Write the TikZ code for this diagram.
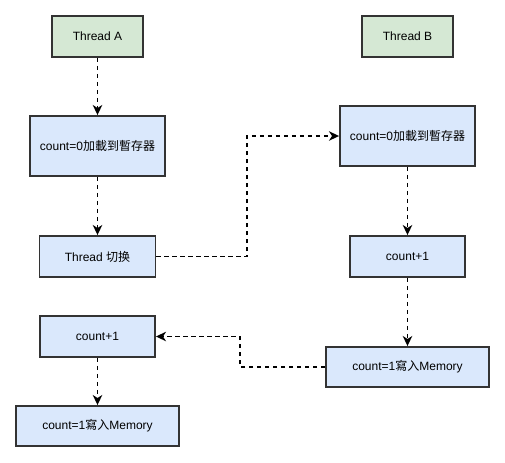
\documentclass[tikz,border=0pt]{standalone}
\usepackage{fontspec}
\setmainfont{Liberation Sans}
\newfontfamily\cjk{Noto Sans CJK SC}
\usetikzlibrary{arrows.meta}
\definecolor{boxgreen}{HTML}{D5E8D4}
\definecolor{boxblue}{HTML}{DAE8FC}
\definecolor{boxline}{HTML}{333333}
\begin{document}
\begin{tikzpicture}[x=0.75pt, y=-0.75pt, >={Stealth[length=7.5pt, width=7pt, inset=2.2pt]},
    box/.style={draw=boxline, line width=1.4pt, fill=boxblue, inner sep=0pt,
      font=\fontsize{9pt}{11pt}\selectfont},
    head/.style={box, fill=boxgreen, minimum width=68.25pt, minimum height=30.75pt},
    flow/.style={->, line width=1.4pt, dash pattern=on 3.4pt off 2.6pt}]
    \newcommand\XA{97.5}
    \newcommand\XB{407.5}
    \useasboundingbox (0,0) rectangle (505,462);
    \node[head] (TA) at (\XA, 36.5){Thread A};
    \node[head] (TB) at (\XB, 36.5){Thread B};
    \node[box, minimum width=101.25pt, minimum height=45pt] (LA) at (\XA, 146){count=0{\cjk 加載到暫存器}};
    \node[box, minimum width=101.25pt, minimum height=45pt] (LB) at (\XB, 136){count=0{\cjk 加載到暫存器}};
    \node[box, minimum width=87pt, minimum height=30.75pt] (SW) at (\XA, 256.5){Thread {\cjk 切换}};
    \node[box, minimum width=86.25pt, minimum height=30.75pt] (IB) at (\XB, 256.5){count+1};
    \node[box, minimum width=86.25pt, minimum height=30.75pt] (IA) at (\XA, 336.5){count+1};
    \node[box, minimum width=122.25pt, minimum height=30pt] (WB) at (\XB, 367){count=1{\cjk 寫入}Memory};
    \node[box, minimum width=122.25pt, minimum height=30pt] (WA) at (\XA, 426){count=1{\cjk 寫入}Memory};
    \coordinate (J1) at (247, 256.5);
    \coordinate (J2) at (240, 367);
    \draw[flow] (TA) -- (LA);
    \draw[flow] (LA) -- (SW);
    \draw[flow] (SW) -- (J1) |- (LB);
    \draw[flow] (LB) -- (IB);
    \draw[flow] (IB) -- (WB);
    \draw[flow] (WB) -- (J2) |- (IA);
    \draw[flow] (IA) -- (WA);
  \end{tikzpicture}
\end{document}
